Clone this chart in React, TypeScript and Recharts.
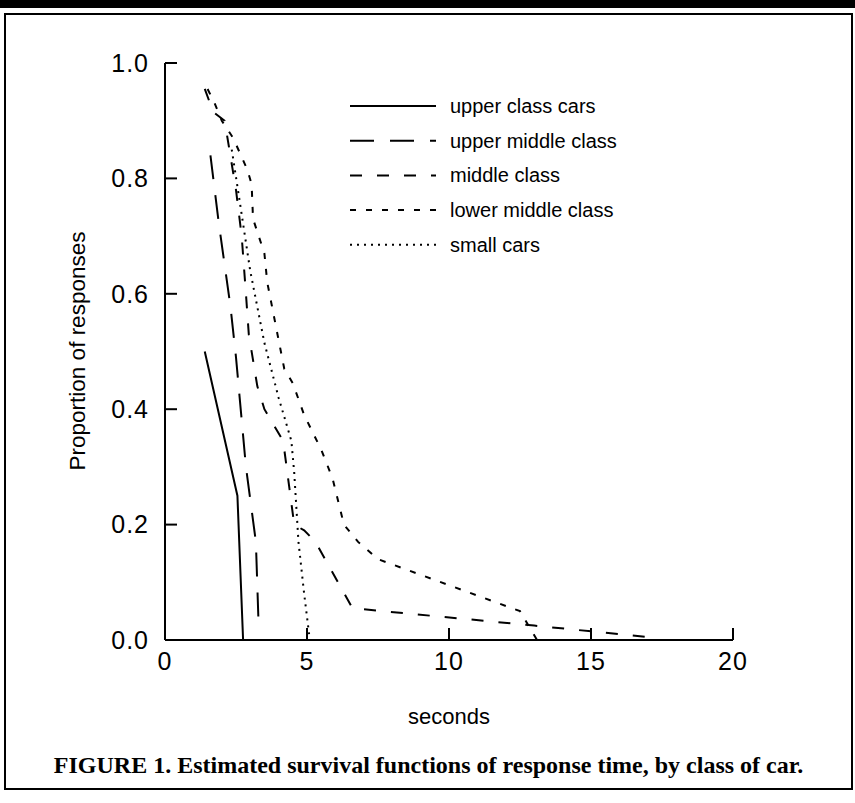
import React from 'react';
import { LineChart, Line, XAxis, YAxis, Legend } from 'recharts';

// survival estimates (seconds, proportion)
const upperClass = [
  { x: 1.4, y: 0.5 },
  { x: 2.55, y: 0.25 },
  { x: 2.75, y: 0.0 },
];

const upperMiddle = [
  { x: 1.6, y: 0.84 },
  { x: 1.9, y: 0.72 },
  { x: 2.3, y: 0.58 },
  { x: 2.5, y: 0.49 },
  { x: 2.85, y: 0.3 },
  { x: 3.2, y: 0.17 },
  { x: 3.3, y: 0.02 },
];

const middleClass = [
  { x: 1.4, y: 0.955 },
  { x: 1.7, y: 0.915 },
  { x: 2.1, y: 0.9 },
  { x: 2.3, y: 0.84 },
  { x: 2.5, y: 0.78 },
  { x: 2.7, y: 0.7 },
  { x: 2.85, y: 0.6 },
  { x: 2.95, y: 0.53 },
  { x: 3.25, y: 0.44 },
  { x: 3.5, y: 0.4 },
  { x: 4.1, y: 0.35 },
  { x: 4.2, y: 0.33 },
  { x: 4.55, y: 0.2 },
  { x: 4.9, y: 0.19 },
  { x: 5.3, y: 0.17 },
  { x: 6.6, y: 0.055 },
  { x: 13.0, y: 0.025 },
  { x: 17.0, y: 0.005 },
];

const lowerMiddle = [
  { x: 1.5, y: 0.955 },
  { x: 1.75, y: 0.93 },
  { x: 2.0, y: 0.9 },
  { x: 2.4, y: 0.87 },
  { x: 2.9, y: 0.815 },
  { x: 3.05, y: 0.79 },
  { x: 3.1, y: 0.73 },
  { x: 3.3, y: 0.7 },
  { x: 3.5, y: 0.67 },
  { x: 3.6, y: 0.62 },
  { x: 4.0, y: 0.52 },
  { x: 4.2, y: 0.47 },
  { x: 4.5, y: 0.445 },
  { x: 4.9, y: 0.39 },
  { x: 5.5, y: 0.33 },
  { x: 5.9, y: 0.28 },
  { x: 6.3, y: 0.2 },
  { x: 6.8, y: 0.17 },
  { x: 7.5, y: 0.14 },
  { x: 12.5, y: 0.05 },
  { x: 13.1, y: 0.0 },
];

const smallCars = [
  { x: 2.35, y: 0.85 },
  { x: 2.6, y: 0.77 },
  { x: 3.0, y: 0.64 },
  { x: 3.5, y: 0.515 },
  { x: 4.0, y: 0.42 },
  { x: 4.45, y: 0.345 },
  { x: 4.55, y: 0.29 },
  { x: 4.7, y: 0.17 },
  { x: 4.9, y: 0.08 },
  { x: 5.05, y: 0.02 },
  { x: 5.1, y: 0.0 },
];

const xTicks = [0, 5, 10, 15, 20];
const yTicks = [0, 0.2, 0.4, 0.6, 0.8, 1.0];

const series = [
  { name: 'upper class cars', data: upperClass, dash: undefined },
  { name: 'upper middle class', data: upperMiddle, dash: '24 16' },
  { name: 'middle class', data: middleClass, dash: '12 15' },
  { name: 'lower middle class', data: lowerMiddle, dash: '6 10' },
  { name: 'small cars', data: smallCars, dash: '2 5' },
];

const font = '"Liberation Sans", Arial, sans-serif';

const LegendBox = () => (
  <svg width={320} height={175} style={{ fontFamily: font }}>
    {series.map((s, i) => (
      <g key={s.name} transform={`translate(0, ${12 + i * 34.7})`}>
        <line x1={0} x2={86} y1={0} y2={0} stroke="#000" strokeWidth={2} strokeDasharray={s.dash} />
        <text x={100} y={0} dominantBaseline="central" fontSize={20} fill="#000">
          {s.name}
        </text>
      </g>
    ))}
  </svg>
);

const tickStyle = { fill: '#000', fontSize: 25, fontFamily: font, letterSpacing: 1 };

export default function App() {
  return (
    <div style={{ position: 'absolute', left: 0, top: 0, width: 855, height: 803, background: '#fff', fontFamily: font }}>
      <div style={{ position: 'absolute', left: 0, top: 0, width: 855, height: 8, background: '#000' }} />
      <div
        style={{
          position: 'absolute',
          left: 4,
          top: 13,
          width: 849,
          height: 777,
          border: '2px solid #000',
          boxSizing: 'border-box',
        }}
      />
      <div
        style={{
          position: 'absolute',
          left: 78,
          top: 351,
          transform: 'translate(-50%, -50%) rotate(-90deg)',
          whiteSpace: 'nowrap',
          fontSize: 22.5,
          color: '#000',
        }}
      >
        Proportion of responses
      </div>
      <div style={{ position: 'absolute', left: 0, top: 0 }}>
        <LineChart width={855} height={803} margin={{ top: 63, right: 122, bottom: 133, left: 105 }}>
          <XAxis
            type="number"
            dataKey="x"
            domain={[0, 20]}
            ticks={xTicks}
            height={30}
            tickSize={-12}
            tickMargin={24}
            tick={tickStyle}
            axisLine={{ stroke: '#000', strokeWidth: 2 }}
            tickLine={{ stroke: '#000', strokeWidth: 2 }}
            label={{ value: 'seconds', position: 'bottom', offset: 38, fill: '#000', fontSize: 22 }}
          />
          <YAxis
            type="number"
            domain={[0, 1]}
            ticks={yTicks}
            width={60}
            tickSize={-12}
            tickMargin={28}
            tick={tickStyle}
            tickFormatter={(v: number) => v.toFixed(1)}
            axisLine={{ stroke: '#000', strokeWidth: 2 }}
            tickLine={{ stroke: '#000', strokeWidth: 2 }}
          />
          <Legend
            layout="vertical"
            align="center"
            verticalAlign="middle"
            content={() => <LegendBox />}
            wrapperStyle={{ left: 350, top: 94, width: 320 }}
          />
          {series.map((s) => (
            <Line
              key={s.name}
              name={s.name}
              data={s.data}
              dataKey="y"
              type="linear"
              stroke="#000"
              strokeWidth={2}
              strokeDasharray={s.dash}
              dot={false}
              activeDot={false}
              isAnimationActive={false}
            />
          ))}
        </LineChart>
      </div>
      <div
        style={{
          position: 'absolute',
          left: 4,
          width: 849,
          top: 752,
          textAlign: 'center',
          fontFamily: '"Liberation Serif", "Times New Roman", serif',
          fontWeight: 'bold',
          fontSize: 24,
          color: '#000',
        }}
      >
        FIGURE 1. Estimated survival functions of response time, by class of car.
      </div>
    </div>
  );
}
